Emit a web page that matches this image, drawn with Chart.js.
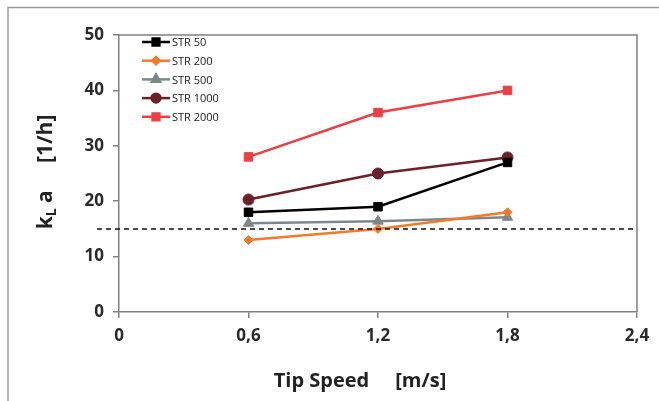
<!DOCTYPE html>
<html>
<head>
<meta charset="utf-8">
<script src="https://cdn.jsdelivr.net/npm/chart.js@4/dist/chart.umd.min.js"></script>
<style>
  body { margin: 0; background: #fff; }
  #wrap { width: 659px; height: 401px; }
</style>
</head>
<body>
<div id="wrap"><canvas id="kla" width="659" height="401"></canvas></div>
<script>
// tip speed [m/s]
const tipSpeed = [0.6, 1.2, 1.8];
// kLa [1/h] per reactor
const str50 = [18, 19, 27];
const str200 = [13, 15, 18];
const str500 = [16, 16.4, 17.1];
const str1000 = [20.3, 25, 27.9];
const str2000 = [28, 36, 40];
const seriesNames = ["STR 50", "STR 200", "STR 500", "STR 1000", "STR 2000"];
const refLine = 15;

const tickFont = { family: "'Open Sans', sans-serif", size: 17, weight: "bold" };

function pts(vals) {
  return vals.map((v, i) => ({ x: tipSpeed[i], y: v }));
}

function makeSet(name, vals, color, style, r) {
  return {
    label: name,
    data: pts(vals),
    borderColor: color,
    backgroundColor: color,
    borderWidth: 2.5,
    pointStyle: style,
    pointRadius: r,
    pointHoverRadius: r,
    pointBorderWidth: 1,
    tension: 0,
  };
}

// frame, dashed reference, legend and axis titles
const extras = {
  id: "extras",
  beforeDraw(chart) {
    const c = chart.ctx;
    c.save();
    c.strokeStyle = "#9a9a9a";
    c.lineWidth = 1.5;
    c.beginPath();
    c.moveTo(8, 401);
    c.lineTo(8, 7.5);
    c.lineTo(659, 7.5);
    c.stroke();
    c.restore();
  },
  afterDatasetsDraw(chart) {
    const c = chart.ctx;
    const a = chart.chartArea;
    const y = chart.scales.y;
    c.save();
    // plot box top/right
    c.strokeStyle = "#808080";
    c.lineWidth = 1.5;
    c.beginPath();
    c.moveTo(a.left, a.top);
    c.lineTo(a.right, a.top);
    c.lineTo(a.right, a.bottom);
    c.stroke();
    // dashed line at 15
    const yy = y.getPixelForValue(refLine);
    c.strokeStyle = "#111";
    c.lineWidth = 1.5;
    c.setLineDash([5, 4]);
    c.beginPath();
    c.moveTo(a.left - 22, yy);
    c.lineTo(a.right, yy);
    c.stroke();
    c.setLineDash([]);

    // legend
    c.font = "11px 'Open Sans', sans-serif";
    c.textBaseline = "middle";
    chart.data.datasets.forEach((ds, i) => {
      const ly = 42 + i * 18.7;
      c.strokeStyle = ds.borderColor;
      c.lineWidth = 2.5;
      c.beginPath();
      c.moveTo(142, ly);
      c.lineTo(170, ly);
      c.stroke();
      c.fillStyle = ds.backgroundColor;
      Chart.helpers.drawPoint(c, { pointStyle: ds.pointStyle, radius: ds.pointRadius * 0.8, borderWidth: 1 }, 156, ly);
      c.fillStyle = "#222";
      c.fillText(ds.label, 172, ly + 1);
    });

    // axis titles
    c.fillStyle = "#222";
    c.font = "bold 20px 'Open Sans', sans-serif";
    c.textAlign = "center";
    c.textBaseline = "middle";
    c.fillText("Tip Speed     [m/s]", 360, 381);

    c.translate(46, 172);
    c.rotate(-Math.PI / 2);
    c.textAlign = "left";
    const parts = [["k", 21, 0], ["L", 14, 6], [" a     [1/h]", 21, 0]];
    let total = 0;
    parts.forEach(p => { c.font = "bold " + p[1] + "px 'Open Sans', sans-serif"; total += c.measureText(p[0]).width; });
    let px = -total / 2;
    parts.forEach(p => {
      c.font = "bold " + p[1] + "px 'Open Sans', sans-serif";
      c.fillText(p[0], px, p[2]);
      px += c.measureText(p[0]).width;
    });
    c.restore();
  }
};

new Chart(document.getElementById("kla"), {
  type: "line",
  data: {
    datasets: [
      makeSet(seriesNames[0], str50, "#000000", "rect", 6),
      makeSet(seriesNames[1], str200, "#F47A2A", "rectRot", 4.5),
      makeSet(seriesNames[2], str500, "#7D8789", "triangle", 6),
      makeSet(seriesNames[3], str1000, "#6A2127", "circle", 5.5),
      makeSet(seriesNames[4], str2000, "#EE3E42", "rect", 6),
    ],
  },
  options: {
    responsive: false,
    animation: false,
    layout: { padding: { top: 35, right: 22, left: 0, bottom: 0 } },
    plugins: { legend: { display: false }, tooltip: { enabled: false } },
    scales: {
      x: {
        type: "linear",
        min: 0,
        max: 2.4,
        ticks: {
          stepSize: 0.6,
          color: "#2a2a2a",
          font: tickFont,
          padding: 8,
          maxRotation: 0,
          callback: v => {
            const r = Math.round(v * 10) / 10;
            return r === 0 ? "0" : r.toFixed(1).replace(".", ",");
          },
        },
        grid: { display: true, drawOnChartArea: false, drawTicks: true, tickLength: 6, color: "#808080", lineWidth: 1.5 },
        border: { display: true, color: "#808080", width: 1.5 },
        afterFit: s => { s.height = 89; },
      },
      y: {
        min: 0,
        max: 50,
        ticks: { stepSize: 10, color: "#2a2a2a", font: tickFont, padding: 9 },
        grid: { display: true, drawOnChartArea: false, drawTicks: true, tickLength: 6, color: "#808080", lineWidth: 1.5 },
        border: { display: true, color: "#808080", width: 1.5 },
        afterFit: s => { s.width = 119; },
      },
    },
  },
  plugins: [extras],
});
</script>
</body>
</html>
